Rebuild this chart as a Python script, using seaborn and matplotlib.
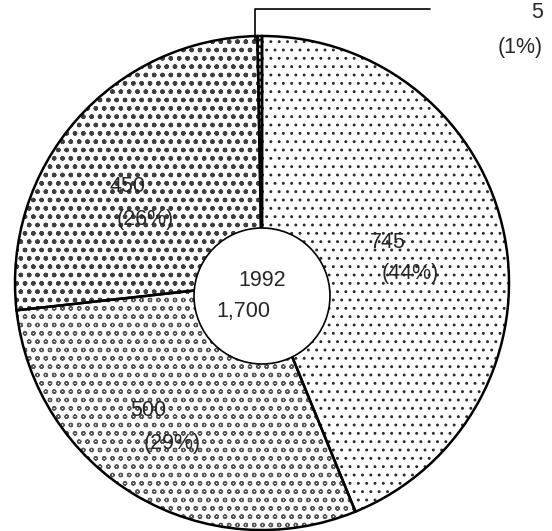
import matplotlib.pyplot as plt
import seaborn as sns

sns.set_theme(style="white")
plt.rcParams['font.family'] = ['Liberation Sans', 'DejaVu Sans']
plt.rcParams['hatch.linewidth'] = 0.9

# data
values = [745, 500, 450, 5]
percents = ['44%', '29%', '26%', '1%']
hatches = ['..', 'oo', 'oo..', 'xxxxx']
hatch_colors = ['#2a2a2a', '#555555', '#404040', '#222222']
year = '1992'
total_label = '1,700'

fig = plt.figure(figsize=(5.52, 5.31), dpi=100)
ax = fig.add_axes([0, 0, 1, 1])

H = 531
cx, cy, r = 262, H - 283, 247

# patterned fills
fills, _ = ax.pie(values, startangle=90, counterclock=False, center=(cx, cy), radius=r,
                  colors=['white'] * len(values), wedgeprops=dict(linewidth=0), frame=True)
for w, h, c in zip(fills, hatches, hatch_colors):
    w.set_hatch(h)
    w.set_edgecolor(c)
    w.set_linewidth(0)

# outlines
ax.pie(values, startangle=90, counterclock=False, center=(cx, cy), radius=r,
       wedgeprops=dict(fill=False, edgecolor='black', linewidth=1.8), frame=True)
ax.set_xlim(0, 552)
ax.set_ylim(0, 531)
ax.axis('off')

# center circle
circ = plt.Circle((262, H - 296), 68, facecolor='white', edgecolor='black', linewidth=1.2, zorder=5)
ax.add_patch(circ)
ax.text(262, H - 280, year, ha='center', va='center', fontsize=15.5, zorder=6)
ax.text(243, H - 312, total_label, ha='center', va='center', fontsize=15.5, zorder=6)

# slice labels
label_pos = [((388, 242), (410, 273)), ((148, 410), (172, 443)), ((128, 187), (145, 220))]
for i, ((x1, y1), (x2, y2)) in enumerate(label_pos):
    ax.text(x1, H - y1, f'{values[i]}', ha='center', va='center', fontsize=15.5, zorder=6)
    ax.text(x2, H - y2, f'({percents[i]})', ha='center', va='center', fontsize=15.5, zorder=6)

# small slice leader
ax.plot([255, 255, 430], [H - 40, H - 9, H - 9], color='black', linewidth=1.2, zorder=6)
ax.text(537, H - 13, f'{values[3]}', ha='center', va='center', fontsize=15.5)
ax.text(520, H - 48, f'({percents[3]})', ha='center', va='center', fontsize=15.5)

fig.savefig('out.png', dpi=100)
